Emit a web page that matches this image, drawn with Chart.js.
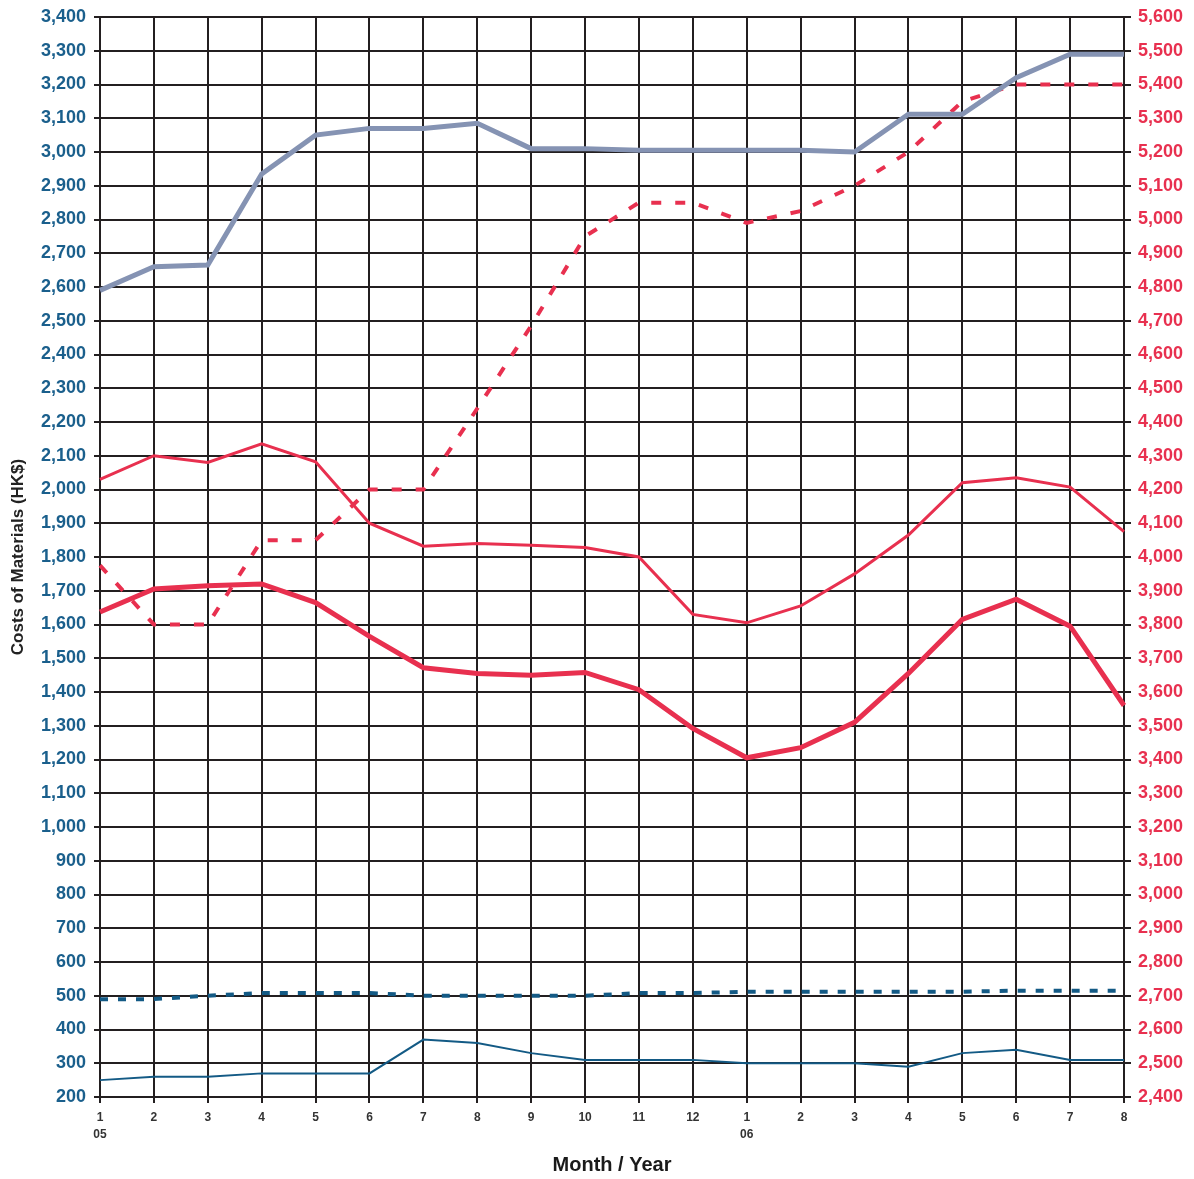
<!DOCTYPE html>
<html>
<head>
<meta charset="utf-8">
<title>Costs of Materials</title>
<script src="https://cdn.jsdelivr.net/npm/chart.js@4/dist/chart.umd.min.js"></script>
<style>
  html, body { margin: 0; padding: 0; background: #ffffff; }
  #wrap { width: 1194px; height: 1179px; position: relative; }
</style>
</head>
<body>
<div id="wrap"><canvas id="costChart"></canvas></div>
<script>
// 月份标签（第二行是年份）
const monthLabels = [
    ['1', '05'], '2', '3', '4', '5', '6', '7', '8', '9', '10', '11', '12',
    ['1', '06'], '2', '3', '4', '5', '6', '7', '8'
];

// 左轴系列 (HK$)
const greyLine = [2590, 2660, 2665, 2935, 3050, 3070, 3070, 3085, 3010, 3010,
    3005, 3005, 3005, 3005, 3000, 3112, 3112, 3220, 3290, 3290];
const blueDotted = [490, 490, 500, 508, 508, 508, 500, 500, 500, 500,
    508, 508, 512, 512, 512, 512, 512, 515, 515, 515];
const blueThin = [250, 260, 260, 270, 270, 270, 370, 360, 330, 310,
    310, 310, 300, 300, 300, 290, 330, 340, 310, 310];

// 右轴系列 (HK$)
const redDashed = [3975, 3800, 3800, 4050, 4050, 4200, 4200, 4440, 4685, 4950,
    5050, 5050, 4990, 5025, 5100, 5200, 5350, 5400, 5400, 5400];
const redThin = [4230, 4300, 4280, 4335, 4282, 4100, 4032, 4040, 4035, 4028,
    4000, 3830, 3805, 3855, 3950, 4065, 4220, 4235, 4207, 4075];
const redThick = [3837, 3905, 3915, 3920, 3865, 3765, 3672, 3655, 3650, 3658,
    3607, 3492, 3405, 3435, 3510, 3655, 3815, 3875, 3795, 3560];

// 坐标轴范围
const leftMin = 200, leftMax = 3400;
const rightMin = 2400, rightMax = 5600;

const BLUE = '#1a5f8c';
const RED = '#e8304f';
const GRID = '#231f20';
const FONT = 'Liberation Sans, Arial, sans-serif';

function fmt(v) {
    return Number(v).toLocaleString('en-US');
}

function makeDataset(data, axis, color, width, dash) {
    return {
        data: data,
        yAxisID: axis,
        borderColor: color,
        backgroundColor: color,
        borderWidth: width,
        borderDash: dash || [],
        pointRadius: 0,
        tension: 0,
        fill: false,
        borderCapStyle: 'butt',
        borderJoinStyle: 'miter'
    };
}

function init() {
    const ctx = document.getElementById('costChart').getContext('2d');
    new Chart(ctx, {
        type: 'line',
        data: {
            labels: monthLabels,
            datasets: [
                makeDataset(greyLine, 'yLeft', '#8593b3', 5),
                makeDataset(redThick, 'yRight', RED, 5),
                makeDataset(redThin, 'yRight', RED, 3),
                makeDataset(redDashed, 'yRight', RED, 4, [10, 14]),
                makeDataset(blueDotted, 'yLeft', '#135a85', 4, [8, 10]),
                makeDataset(blueThin, 'yLeft', '#135a85', 2)
            ]
        },
        options: {
            responsive: true,
            maintainAspectRatio: false,
            animation: false,
            layout: { padding: { top: 10, left: 0, right: 0, bottom: 0 } },
            plugins: {
                legend: { display: false },
                tooltip: { enabled: false }
            },
            scales: {
                x: {
                    type: 'category',
                    offset: false,
                    border: { color: GRID, width: 2 },
                    grid: { color: GRID, lineWidth: 2, tickLength: 6, tickColor: GRID },
                    ticks: {
                        autoSkip: false,
                        maxRotation: 0,
                        padding: 6,
                        color: '#333333',
                        font: { family: FONT, size: 12, weight: 'bold', lineHeight: 1.4 }
                    },
                    title: {
                        display: true,
                        text: 'Month / Year',
                        color: '#1a1a1a',
                        padding: { top: 0, bottom: 2 },
                        font: { family: FONT, size: 20, weight: 'bold' }
                    },
                    afterFit: function (scale) { scale.height = 82; }
                },
                yLeft: {
                    position: 'left',
                    min: leftMin,
                    max: leftMax,
                    border: { color: GRID, width: 2 },
                    grid: { color: GRID, lineWidth: 2, tickLength: 6, tickColor: GRID },
                    ticks: {
                        stepSize: 100,
                        padding: 8,
                        color: BLUE,
                        callback: fmt,
                        font: { family: FONT, size: 18, weight: 'bold', lineHeight: 1.0 }
                    },
                    title: {
                        display: true,
                        text: 'Costs of Materials (HK$)',
                        color: '#222222',
                        padding: { top: 8, bottom: 0 },
                        font: { family: FONT, size: 17, weight: 'bold' }
                    },
                    afterFit: function (scale) { scale.width = 100; }
                },
                yRight: {
                    position: 'right',
                    min: rightMin,
                    max: rightMax,
                    border: { color: GRID, width: 2 },
                    grid: { drawOnChartArea: false, color: GRID, lineWidth: 2, tickLength: 7, tickColor: GRID },
                    ticks: {
                        stepSize: 100,
                        padding: 7,
                        color: RED,
                        callback: fmt,
                        font: { family: FONT, size: 18, weight: 'bold', lineHeight: 1.0 }
                    },
                    afterFit: function (scale) { scale.width = 70; }
                }
            }
        }
    });
}

window.addEventListener('load', init);
</script>
</body>
</html>
